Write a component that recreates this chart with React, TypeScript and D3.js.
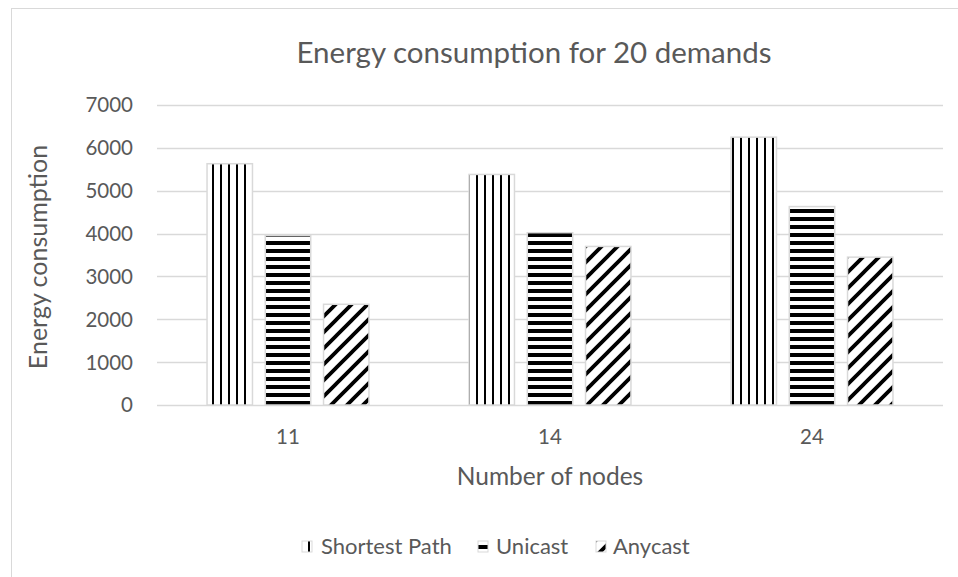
import React from "react";
import * as d3 from "d3";

const categories = ["11", "14", "24"];
const seriesNames = ["Shortest Path", "Unicast", "Anycast"];
const shortestPath = [5630, 5380, 6250];
const unicast = [3950, 4020, 4630];
const anycast = [2350, 3700, 3450];
const yTicks = [0, 1000, 2000, 3000, 4000, 5000, 6000, 7000];

const seriesValues = [shortestPath, unicast, anycast];
const patternIds = ["pat-vert", "pat-horz", "pat-diag"];

const W = 958;
const H = 577;
const plot = { left: 157, right: 943, top: 105, bottom: 405 };
const FONT = "Lato, 'Open Sans', sans-serif";
const TEXT = "#595959";
const GRID = "#d9d9d9";

export default function App() {
  const x0 = d3
    .scaleBand<string>()
    .domain(categories)
    .range([plot.left, plot.right])
    .paddingInner(0.382)
    .paddingOuter(0.191);
  const x1 = d3
    .scaleBand<string>()
    .domain(seriesNames)
    .range([0, x0.bandwidth()])
    .paddingInner(0.22)
    .paddingOuter(0);
  const y = d3.scaleLinear().domain([0, 7000]).range([plot.bottom, plot.top]);

  const legendItems = [
    { name: seriesNames[0], mx: 302, tx: 321 },
    { name: seriesNames[1], mx: 478, tx: 496 },
    { name: seriesNames[2], mx: 596, tx: 613 },
  ];

  return (
    <svg
      width={W}
      height={H}
      style={{ position: "absolute", left: 0, top: 0, background: "#fff" }}
    >
      <defs>
        <pattern id="pat-vert" patternUnits="userSpaceOnUse" width={8} height={8} x={0} y={0}>
          <rect width={8} height={8} fill="#fff" />
          <rect x={4} y={0} width={2} height={8} fill="#000" />
        </pattern>
        <pattern id="pat-horz" patternUnits="userSpaceOnUse" width={8} height={8} x={0} y={1}>
          <rect width={8} height={8} fill="#fff" />
          <rect x={0} y={0} width={8} height={4} fill="#000" />
        </pattern>
        <pattern id="pat-diag" patternUnits="userSpaceOnUse" width={16} height={16}>
          <rect width={16} height={16} fill="#fff" />
          <path d="M-4,4 L4,-4 M0,16 L16,0 M12,20 L20,12" stroke="#000" strokeWidth={3.8} />
        </pattern>
      </defs>

      <rect x={11.5} y={8.5} width={960} height={580} fill="#fff" stroke={GRID} strokeWidth={1} />

      <text
        x={534}
        y={63}
        textAnchor="middle"
        fontFamily={FONT}
        fontSize={29.5}
        fill={TEXT}
      >
        Energy consumption for 20 demands
      </text>

      {yTicks.map((t) => (
        <g key={t}>
          <line
            x1={plot.left}
            x2={plot.right}
            y1={Math.round(y(t)) + 0.5}
            y2={Math.round(y(t)) + 0.5}
            stroke={GRID}
            strokeWidth={1.3}
          />
          <text
            x={133}
            y={y(t)}
            dy="0.36em"
            textAnchor="end"
            fontFamily={FONT}
            fontSize={20.5}
            fill={TEXT}
          >
            {t}
          </text>
        </g>
      ))}

      {categories.map((c, ci) => (
        <g key={c}>
          {seriesNames.map((s, si) => {
            const v = seriesValues[si][ci];
            const bx = (x0(c) as number) + (x1(s) as number);
            return (
              <rect
                key={s}
                x={bx}
                y={y(v)}
                width={x1.bandwidth()}
                height={plot.bottom - y(v)}
                fill={`url(#${patternIds[si]})`}
                stroke={GRID}
                strokeWidth={1.5}
              />
            );
          })}
          <text
            x={(x0(c) as number) + x0.bandwidth() / 2}
            y={444}
            textAnchor="middle"
            fontFamily={FONT}
            fontSize={20.5}
            fill={TEXT}
          >
            {c}
          </text>
        </g>
      ))}

      <text
        x={(plot.left + plot.right) / 2}
        y={485}
        textAnchor="middle"
        fontFamily={FONT}
        fontSize={24.5}
        fill={TEXT}
      >
        Number of nodes
      </text>

      <text
        transform={`translate(47, ${(plot.top + plot.bottom) / 2 + 2}) rotate(-90)`}
        textAnchor="middle"
        fontFamily={FONT}
        fontSize={25}
        fill={TEXT}
      >
        Energy consumption
      </text>

      {legendItems.map((it, i) => (
        <g key={it.name}>
          <rect
            x={it.mx}
            y={541}
            width={10}
            height={11}
            fill={`url(#${patternIds[i]})`}
            stroke={GRID}
            strokeWidth={1}
          />
          <text
            x={it.tx}
            y={554}
            fontFamily={FONT}
            fontSize={22}
            fill={TEXT}
          >
            {it.name}
          </text>
        </g>
      ))}
    </svg>
  );
}
